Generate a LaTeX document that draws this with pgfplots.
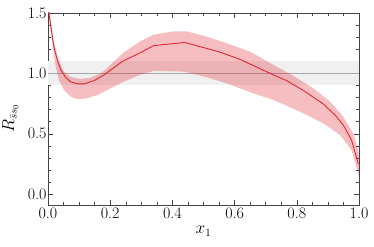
\documentclass[border=0pt]{standalone}
\usepackage{pgfplots}
\pgfplotsset{compat=1.18}
\definecolor{bandred}{HTML}{E0202A}
\definecolor{axgray}{HTML}{444444}
\begin{document}
\begin{tikzpicture}
\begin{axis}[
  scale only axis,
  width=311pt, height=192pt,
  xmin=0, xmax=1, ymin=-0.09, ymax=1.5,
  xtick={0,0.2,0.4,0.6,0.8,1.0},
  xticklabels={0.0,0.2,0.4,0.6,0.8,1.0},
  ytick={0,0.5,1.0,1.5},
  yticklabels={0.0,0.5,1.0,1.5},
  minor x tick num=3,
  minor y tick num=4,
  tick align=inside,
  tick pos=both,
  major tick length=5pt,
  minor tick length=3pt,
  axis line style={axgray, line width=0.8pt},
  every tick/.style={axgray, line width=0.5pt},
  tick label style={font=\fontsize{16}{16}\selectfont},
  xticklabel style={yshift=1pt},
  yticklabel style={xshift=2pt},
  xlabel={$x_1$},
  ylabel={$R_{\bar{s}s_0}$},
  label style={font=\fontsize{16}{16}\selectfont},
  xlabel style={at={(axis description cs:0.5,0)}, anchor=north, yshift=-18pt},
  ylabel style={at={(axis description cs:0,0.45)}, anchor=south, yshift=26pt},
  clip=true,
]
% grey reference band
\addplot[fill=gray!12, draw=none] coordinates {(0,0.9) (1,0.9) (1,1.1) (0,1.1)} -- cycle;
\addplot[gray!70, line width=0.6pt] coordinates {(0,1.0) (1,1.0)};
% uncertainty band
\addplot[fill=bandred, fill opacity=0.29, draw=none] coordinates {
(0.0,1.58)(0.008,1.44)(0.014,1.34)(0.019,1.26)(0.030,1.15)(0.041,1.07)(0.051,1.015)(0.073,0.97)(0.105,0.954)(0.137,0.965)(0.169,1.0)(0.189,1.04)(0.242,1.17)(0.296,1.265)(0.339,1.32)(0.403,1.348)(0.446,1.348)(0.510,1.305)(0.574,1.25)(0.650,1.18)(0.725,1.07)(0.789,0.98)(0.853,0.877)(0.907,0.766)(0.950,0.64)(0.982,0.50)(1.0,0.336)
(1.0,0.15)(0.976,0.364)(0.939,0.49)(0.885,0.586)(0.810,0.683)(0.725,0.78)(0.660,0.835)(0.574,0.918)(0.510,0.968)(0.435,1.015)(0.339,1.02)(0.296,0.988)(0.242,0.93)(0.189,0.86)(0.158,0.82)(0.126,0.794)(0.094,0.786)(0.073,0.807)(0.051,0.863)(0.035,0.946)(0.025,1.056)(0.019,1.16)(0.014,1.25)(0.008,1.36)(0.0,1.53)
} -- cycle;
% central line
\addplot[bandred, line width=0.85pt] coordinates {
(0.0,1.56)(0.003,1.5)(0.0087,1.40)(0.014,1.305)(0.019,1.22)(0.030,1.11)(0.041,1.03)(0.057,0.965)(0.073,0.93)(0.094,0.913)(0.116,0.913)(0.148,0.94)(0.18,0.987)(0.24,1.10)(0.296,1.17)(0.34,1.23)(0.44,1.256)(0.553,1.176)(0.617,1.117)(0.66,1.065)(0.725,0.987)(0.767,0.94)(0.82,0.86)(0.885,0.747)(0.923,0.655)(0.95,0.57)(0.976,0.447)(0.998,0.25)
};
\end{axis}
\pgfresetboundingbox
\path[use as bounding box] ([shift={(-48pt,-41pt)}]current axis.south west) rectangle ([shift={(15pt,13pt)}]current axis.north east);
\end{tikzpicture}
\end{document}
